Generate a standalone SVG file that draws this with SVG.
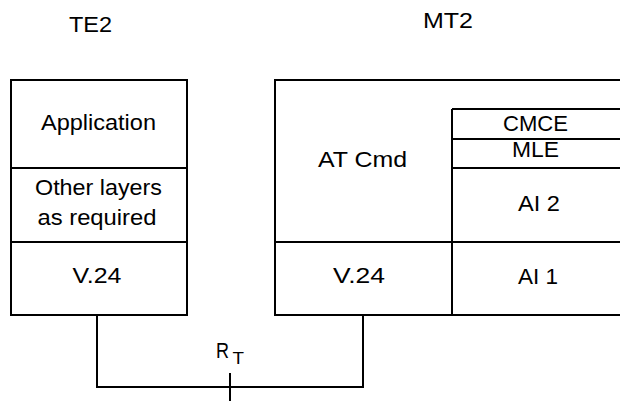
<svg xmlns="http://www.w3.org/2000/svg" width="620" height="401" viewBox="0 0 620 401">
<style>
.box{fill:#fff;stroke:#000;stroke-width:2}
.ln{fill:none;stroke:#000;stroke-width:2}
text{font-family:"Liberation Sans",Arial,sans-serif;font-size:21.5px;fill:#000;text-anchor:middle}
.sub{font-size:16px;text-anchor:start}
</style>
<rect width="620" height="401" fill="#fff"/>
<g id="te2">
<text x="90.5" y="32" textLength="43" lengthAdjust="spacingAndGlyphs">TE2</text>
<rect class="box" x="11" y="80" width="176" height="235"/>
<line class="ln" x1="11" y1="168" x2="187" y2="168"/>
<line class="ln" x1="11" y1="242" x2="187" y2="242"/>
<text x="98.5" y="130" textLength="115" lengthAdjust="spacingAndGlyphs">Application</text>
<text x="98.5" y="195" textLength="127" lengthAdjust="spacingAndGlyphs">Other layers</text>
<text x="97" y="225" textLength="119" lengthAdjust="spacingAndGlyphs">as required</text>
<text x="97" y="283" textLength="49" lengthAdjust="spacingAndGlyphs">V.24</text>
</g>
<g id="mt2">
<text x="448" y="28" textLength="50" lengthAdjust="spacingAndGlyphs">MT2</text>
<rect class="box" x="275" y="80" width="348" height="235"/>
<line class="ln" x1="275" y1="242" x2="622" y2="242"/>
<line class="ln" x1="452" y1="109" x2="452" y2="315"/>
<line class="ln" x1="452" y1="109" x2="622" y2="109"/>
<line class="ln" x1="452" y1="139" x2="622" y2="139"/>
<line class="ln" x1="452" y1="168" x2="622" y2="168"/>
<text x="362.5" y="167" textLength="89" lengthAdjust="spacingAndGlyphs">AT Cmd</text>
<text x="535.5" y="131" textLength="65" lengthAdjust="spacingAndGlyphs">CMCE</text>
<text x="535.5" y="157" textLength="47" lengthAdjust="spacingAndGlyphs">MLE</text>
<text x="539" y="211" textLength="42" lengthAdjust="spacingAndGlyphs">AI 2</text>
<text x="359" y="283" textLength="52" lengthAdjust="spacingAndGlyphs">V.24</text>
<text x="538" y="284" textLength="40" lengthAdjust="spacingAndGlyphs">AI 1</text>
</g>
<g id="connectors">
<polyline class="ln" points="97,315 97,387 363,387 363,315"/>
<line class="ln" x1="230" y1="373" x2="230" y2="401"/>
<text x="222.5" y="358" textLength="13" lengthAdjust="spacingAndGlyphs">R</text>
<text class="sub" x="232.5" y="364" textLength="11.5" lengthAdjust="spacingAndGlyphs">T</text>
</g>
</svg>
